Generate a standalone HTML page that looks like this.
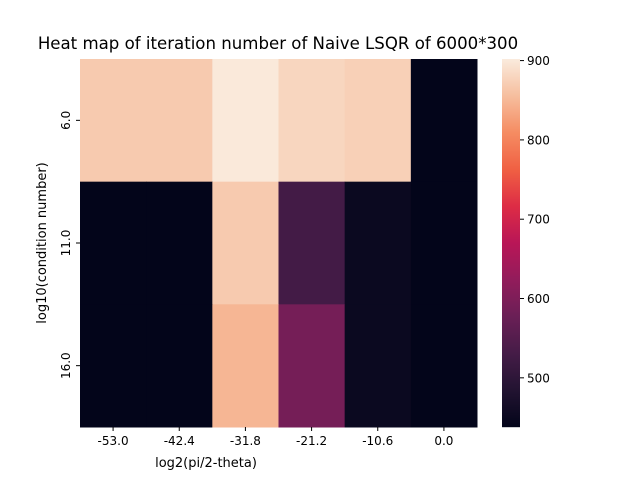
<!DOCTYPE html>
<html><head><meta charset="utf-8"><style>
body{margin:0;background:#fff;font-family:"Liberation Sans","DejaVu Sans",sans-serif}
svg text{font-family:"DejaVu Sans","Liberation Sans",sans-serif}
</style></head><body>
<svg id="c" width="640" height="480">
<text x="278" y="49" font-size="16.6" text-anchor="middle">Heat map of iteration number of Naive LSQR of 6000*300</text>
<g id="cells"></g><g id="xt"></g><g id="yt"></g><g id="cb"></g>
<text x="206" y="467" font-size="13" text-anchor="middle">log2(pi/2-theta)</text>
<text transform="translate(46,243) rotate(-90)" font-size="13" text-anchor="middle">log10(condition number)</text>
</svg>
<script>
const xLabels=["-53.0","-42.4","-31.8","-21.2","-10.6","0.0"];
const yLabels=["6.0","11.0","16.0"];
const row0=[868,868,900,880,874,438];
const row1=[438,438,868,528,450,438];
const row2=[438,438,848,590,450,438];
const cbTicks=[500,600,700,800,900];
const values=[row0,row1,row2];
const vmin=438,vmax=902;
const L=80,R=477,T=59,B=427;
const stops=[[0,[3,5,26]],[0.1,[34,19,49]],[0.2,[69,28,71]],[0.3,[106,31,86]],[0.4,[146,28,91]],[0.5,[185,22,87]],[0.6,[221,44,69]],[0.7,[240,96,67]],[0.8,[245,140,98]],[0.9,[246,190,158]],[1,[250,235,221]]];
function cmap(v){let t=Math.max(0,Math.min(1,(v-vmin)/(vmax-vmin)));for(let i=1;i<stops.length;i++){if(t<=stops[i][0]){const a=stops[i-1],b=stops[i],f=(t-a[0])/(b[0]-a[0]);return 'rgb('+a[1].map((c,k)=>Math.round(c+(b[1][k]-c)*f)).join(',')+')';}}return 'rgb(250,235,221)';}
const NS="http://www.w3.org/2000/svg";
const cw=(R-L)/xLabels.length,ch=(B-T)/yLabels.length;
const xs=i=>L+i*cw, ys=j=>T+j*ch;
function mk(tag,attrs,parent,txt){const e=document.createElementNS(NS,tag);for(const k in attrs)e.setAttribute(k,attrs[k]);if(txt!==undefined)e.textContent=txt;document.getElementById(parent).appendChild(e);return e;}
values.forEach((row,j)=>row.forEach((v,i)=>{
 const r=mk('rect',{x:xs(i),y:ys(j),width:cw+0.5,height:ch+0.5,fill:cmap(v)},'cells');
 
 
}));
xLabels.forEach((l,i)=>{const x=xs(i)+cw/2;
 mk('line',{x1:x,x2:x,y1:B,y2:B+4,stroke:'#000'},'xt');
 const t=mk('text',{x:x,y:B+18,'font-size':12,'text-anchor':'middle'},'xt',l);
 
 
});
yLabels.forEach((l,j)=>{const y=ys(j)+ch/2;
 mk('line',{x1:L-4,x2:L,y1:y,y2:y,stroke:'#000'},'yt');
 const t=mk('text',{transform:'translate('+(L-10)+','+y+') rotate(-90)','font-size':12,'text-anchor':'middle'},'yt',l);
 
 
});
const cbL=502,cbW=18;
const cy=v=>B-(v-vmin)/(vmax-vmin)*(B-T);
for(let y=T;y<B;y++){const v=vmin+(B-y-0.5)/(B-T)*(vmax-vmin);mk('rect',{x:cbL,y:y,width:cbW,height:1.2,fill:cmap(v)},'cb');}
cbTicks.forEach(v=>{const y=cy(v);
 mk('line',{x1:cbL+cbW,x2:cbL+cbW+4,y1:y,y2:y,stroke:'#000'},'cb');
 const t=mk('text',{x:cbL+cbW+7,y:y+4.5,'font-size':12},'cb',String(v));
 
 
});
</script>
</body></html>
